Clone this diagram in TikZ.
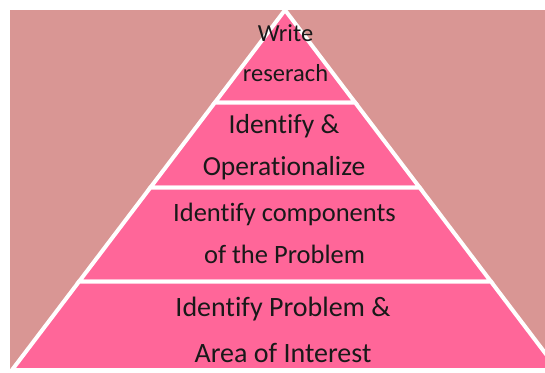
\documentclass[tikz,border=0pt]{standalone}
\usepackage{fontspec}
\setmainfont[Ligatures=NoCommon]{Carlito}
\usepackage{xcolor}
\usepackage{tikz}
\usetikzlibrary{calc, positioning}

\definecolor{backrose}{RGB}{217,150,148}
\definecolor{layerpink}{RGB}{255,102,153}

\begin{document}
\begin{tikzpicture}[x=1pt,y=-1pt,
                    layer/.style={fill=layerpink,draw=white,line width=4pt,line join=miter},
                    level text/.style={anchor=base,align=center,text=black!90,inner sep=0pt}]

  \useasboundingbox (0,0) rectangle (545,372);
  \clip (0,0) rectangle (545,372);
  \fill[backrose] (10,10) rectangle (545,370);

  % corners of the pyramid, top to bottom
  \coordinate (apex) at (285,10);
  \coordinate (l1) at (214.9,102.5);  \coordinate (r1) at (355.1,102.5);
  \coordinate (l2) at (150.4,187.5);  \coordinate (r2) at (419.6,187.5);
  \coordinate (l3) at (79.1,281.5);   \coordinate (r3) at (490.9,281.5);
  \coordinate (l4) at (12,370);       \coordinate (r4) at (558,370);

  \draw[layer] (apex) -- (r1) -- (l1) -- cycle;
  \draw[layer] (l1) -- (r1) -- (r2) -- (l2) -- cycle;
  \draw[layer] (l2) -- (r2) -- (r3) -- (l3) -- cycle;
  \draw[layer] (l3) -- (r3) -- (r4) -- (l4) -- cycle;

  % nodes sit on the baseline of their last line
  \node[level text,font=\fontsize{24.5}{40}\selectfont] (write) at (285.5,81)
    {Write\\reserach};
  \node[level text,font=\fontsize{27.5}{42}\selectfont] (operationalize) at (284,175)
    {Identify \&\\Operationalize};
  \node[level text,font=\fontsize{26.5}{41.6}\selectfont] (components) at (284.5,263.3)
    {Identify components\\of the Problem};
  \node[level text,font=\fontsize{28}{46}\selectfont] (problem) at (283,362)
    {Identify Problem \&\\Area of Interest};

\end{tikzpicture}
\end{document}
